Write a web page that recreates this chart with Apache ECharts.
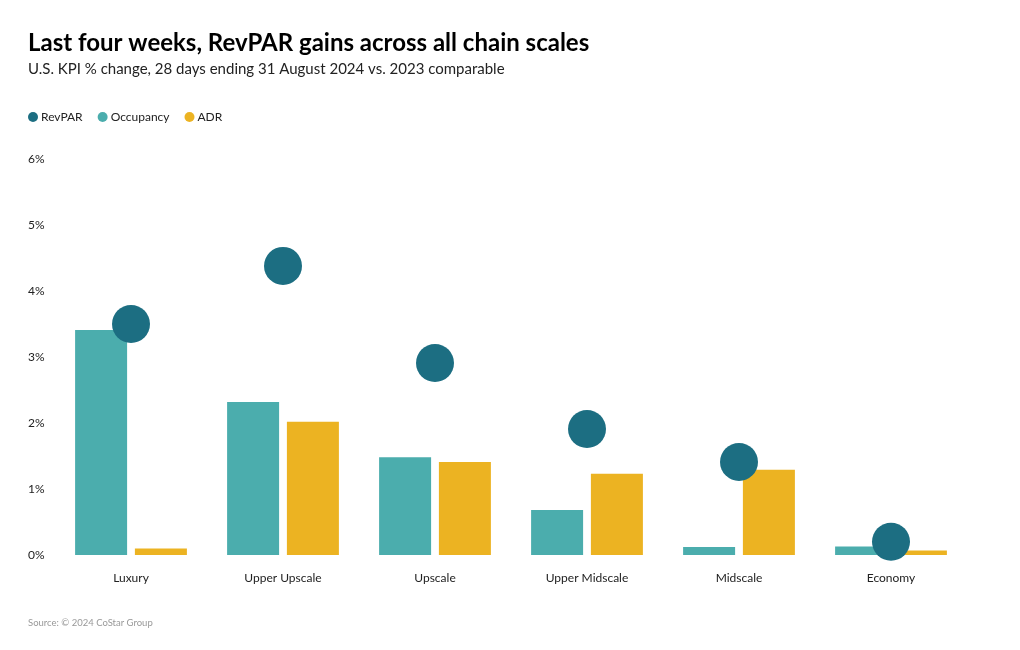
<!DOCTYPE html>
<html>
<head>
<meta charset="utf-8">
<script src="https://cdn.jsdelivr.net/npm/echarts@6/dist/echarts.min.js"></script>
<style>
html,body{margin:0;padding:0;background:#fff;}
#chart{width:1020px;height:650px;}
</style>
</head>
<body>
<div id="chart"></div>
<script>
const categories = ['Luxury', 'Upper Upscale', 'Upscale', 'Upper Midscale', 'Midscale', 'Economy'];
const revpar = [3.5, 4.38, 2.91, 1.91, 1.41, 0.2];
const occupancy = [3.41, 2.32, 1.48, 0.68, 0.12, 0.13];
const adr = [0.1, 2.02, 1.41, 1.23, 1.29, 0.07];
const yTicks = [0, 1, 2, 3, 4, 5, 6];

const FONT = 'Lato, "Noto Sans", sans-serif';
const chart = echarts.init(document.getElementById('chart'));
chart.setOption({
  backgroundColor: '#ffffff',
  textStyle: { fontFamily: FONT },
  title: {
    text: 'Last four weeks, RevPAR gains across all chain scales',
    subtext: 'U.S. KPI % change, 28 days ending 31 August 2024 vs. 2023 comparable',
    left: 28, top: 31, padding: 0, itemGap: 7,
    textStyle: { fontSize: 24, fontWeight: 'bold', color: '#000', fontFamily: FONT },
    subtextStyle: { fontSize: 15, color: '#222', fontFamily: FONT }
  },
  legend: {
    data: ['RevPAR', 'Occupancy', 'ADR'],
    left: 28, top: 111, padding: 0,
    icon: 'circle', itemWidth: 10, itemHeight: 10, itemGap: 15,
    textStyle: { fontSize: 12, color: '#222', fontFamily: FONT, padding: [0, 0, 0, -2] }
  },
  graphic: [{
    type: 'text', left: 28, top: 618,
    style: { text: 'Source: © 2024 CoStar Group', fontSize: 9.5, fill: '#999', fontFamily: FONT }
  }],
  grid: { left: 55, right: 53, top: 159, bottom: 95, containLabel: false },
  xAxis: {
    type: 'category', data: categories,
    axisLine: { show: false }, axisTick: { show: false },
    axisLabel: { fontSize: 12, color: '#222', margin: 17, fontFamily: FONT }
  },
  yAxis: {
    type: 'value', min: yTicks[0], max: yTicks[yTicks.length - 1], interval: 1,
    splitLine: { show: false }, axisLine: { show: false }, axisTick: { show: false },
    axisLabel: { formatter: '{value}%', align: 'left', margin: 27, fontSize: 12, color: '#222', fontFamily: FONT }
  },
  series: [
    { name: 'Occupancy', type: 'bar', data: occupancy, barWidth: 52, barGap: '15%',
      itemStyle: { color: '#4badad' } },
    { name: 'ADR', type: 'bar', data: adr, barWidth: 52,
      itemStyle: { color: '#ecb322' } },
    { name: 'RevPAR', type: 'scatter', data: revpar, symbolSize: 38, z: 5,
      itemStyle: { color: '#1c6e82', opacity: 1 } }
  ]
});
</script>
</body>
</html>
